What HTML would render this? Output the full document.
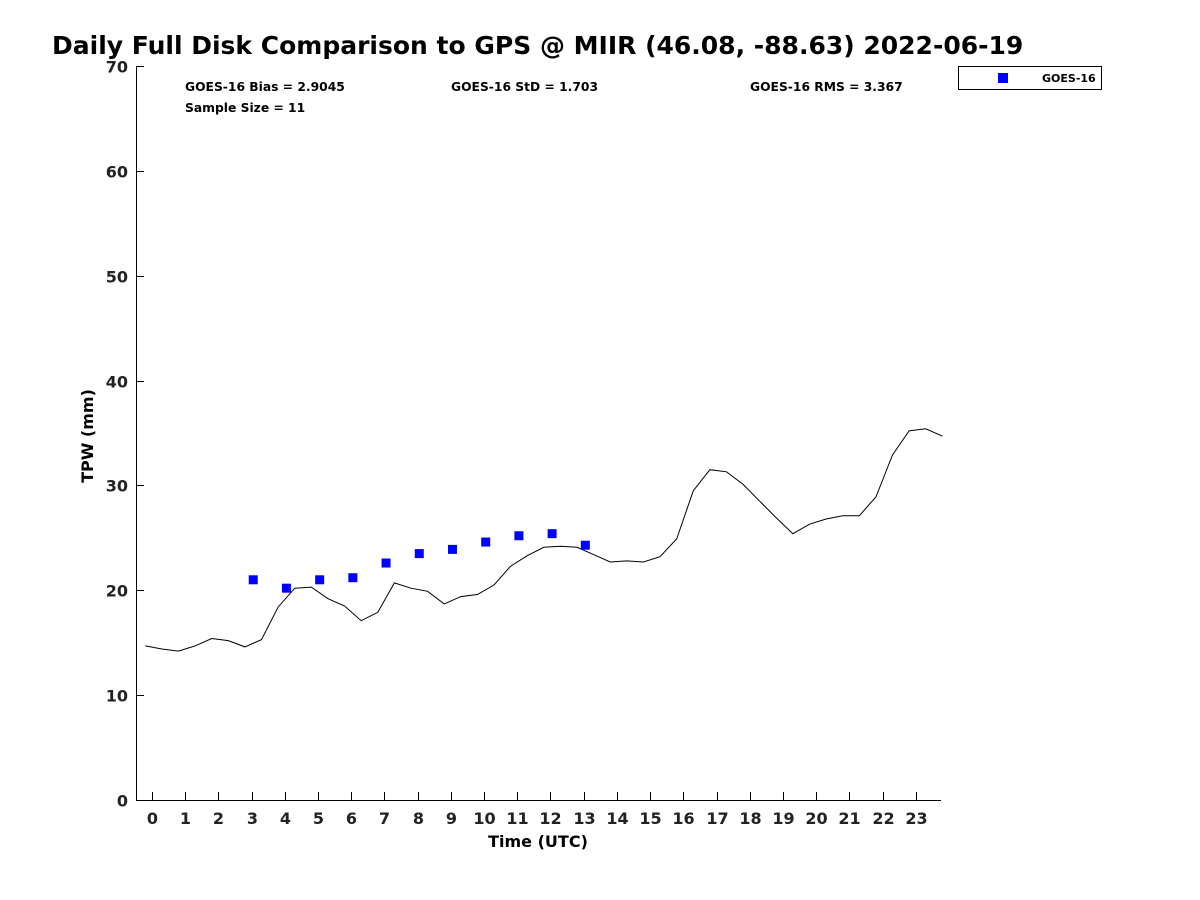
<!DOCTYPE html>
<html><head><meta charset="utf-8"><style>
body{margin:0;background:#fff;}
svg{display:block;font-family:"DejaVu Sans","Liberation Sans",sans-serif;font-weight:bold;}
</style></head><body>
<svg id="chart" width="1200" height="900">
<text x="52" y="54" font-size="25" fill="#000">Daily Full Disk Comparison to GPS @ MIIR (46.08, -88.63) 2022-06-19</text>
<rect x="136" y="66" width="805" height="734" fill="none" stroke="none"/>
<g id="axes"></g>
<g id="series"></g>
<text x="185" y="91" font-size="12.3">GOES-16 Bias = 2.9045</text>
<text x="451" y="91" font-size="12.3">GOES-16 StD = 1.703</text>
<text x="750" y="91" font-size="12.3">GOES-16 RMS = 3.367</text>
<text x="185" y="112" font-size="12.3">Sample Size = 11</text>
<g>
<rect x="958.5" y="66.5" width="143" height="23" fill="#fff" stroke="#000"/>
<rect x="998" y="73" width="10" height="10" fill="#0000ff"/>
<text x="1042" y="82" font-size="11">GOES-16</text>
</g>
<text x="90" y="433" font-size="16" text-anchor="middle" transform="rotate(-90 93 433)">TPW (mm)</text>
<text x="538" y="847" font-size="16" text-anchor="middle">Time (UTC)</text>
</svg>
<script>
const gpsValues=[14.7,14.4,14.2,14.7,15.4,15.2,14.6,15.3,18.4,20.2,20.3,19.2,18.5,17.1,17.9,20.7,20.2,19.9,18.7,19.4,19.6,20.5,22.3,23.3,24.1,24.2,24.1,23.4,22.7,22.8,22.7,23.2,24.9,29.5,31.5,31.3,30.1,28.5,26.9,25.4,26.3,26.8,27.1,27.1,28.9,32.9,35.2,35.4,34.7];
const gpsStart=-0.2, gpsStep=0.5;
const goesHours=[3,4,5,6,7,8,9,10,11,12,13];
const goesValues=[21.0,20.2,21.0,21.2,22.6,23.5,23.9,24.6,25.2,25.4,24.3];
const xTicks=[0,1,2,3,4,5,6,7,8,9,10,11,12,13,14,15,16,17,18,19,20,21,22,23];
const yTicks=[0,10,20,30,40,50,60,70];
const NS='http://www.w3.org/2000/svg';
const X0=136,X1=941,Y0=800,Y1=66,xmin=-0.48,xmax=23.76,ymin=0,ymax=70;
const sx=v=>X0+(v-xmin)/(xmax-xmin)*(X1-X0);
const sy=v=>Y0-(v-ymin)/(ymax-ymin)*(Y0-Y1);
function mk(t,a,p){const e=document.createElementNS(NS,t);for(const k in a)e.setAttribute(k,a[k]);p.appendChild(e);return e;}
const ax=document.getElementById('axes'),se=document.getElementById('series');
const yl=mk('line',{x1:X0+.5,y1:Y1,x2:X0+.5,y2:Y0,stroke:'#000'},ax);


const xl=mk('line',{x1:X0,y1:Y0+.5,x2:X1,y2:Y0+.5,stroke:'#000'},ax);


yTicks.forEach(v=>{const y=Math.round(sy(v))+.5;
mk('line',{x1:X0,y1:y,x2:X0+8,y2:y,stroke:'#000'},ax);
const t=mk('text',{x:X0-8,y:y+6,'font-size':16,'text-anchor':'end',fill:'#222'},ax);t.textContent=v;

});
xTicks.forEach(v=>{const x=Math.round(sx(v))+.5;
mk('line',{x1:x,y1:Y0,x2:x,y2:Y0-8,stroke:'#000'},ax);
const t=mk('text',{x:x,y:Y0+24,'font-size':16,'text-anchor':'middle',fill:'#222'},ax);t.textContent=v;

});
const pts=gpsValues.map((v,i)=>sx(gpsStart+i*gpsStep).toFixed(1)+','+sy(v).toFixed(1)).join(' ');
const pl=mk('polyline',{points:pts,fill:'none',stroke:'#000','stroke-width':1},se);


goesHours.forEach((h,i)=>{const r=mk('rect',{x:sx(h+0.05)-4.5,y:sy(goesValues[i])-4.5,width:9,height:9,fill:'#0000ff'},se);

});
</script>
</body></html>
